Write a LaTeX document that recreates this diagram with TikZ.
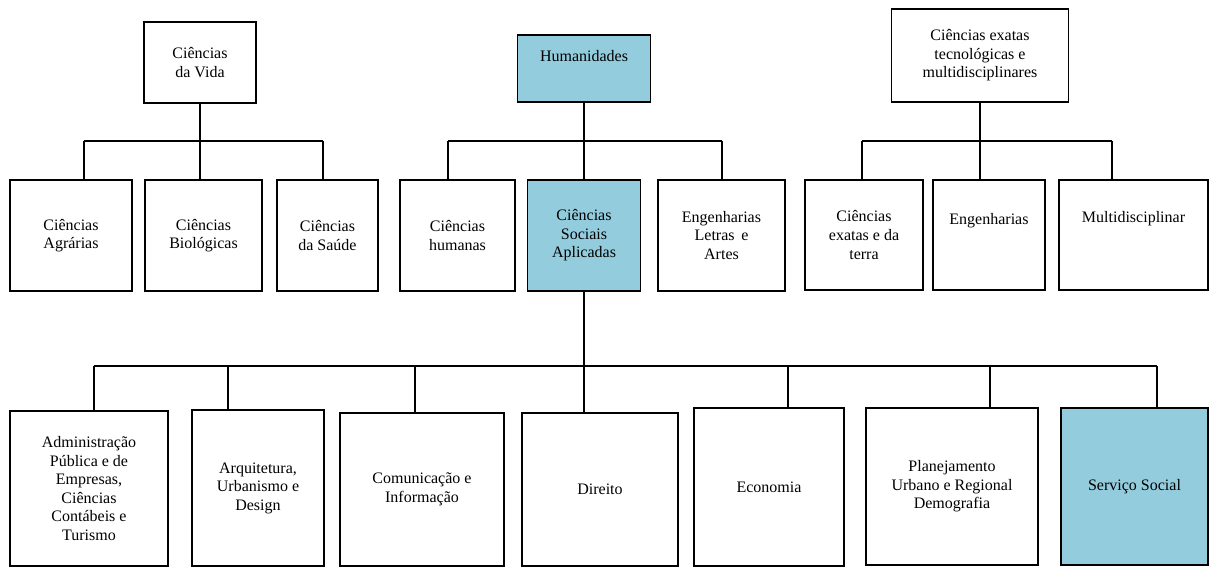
\documentclass[tikz,border=0pt]{standalone}
\usepackage{fontspec}
\setmainfont{Liberation Serif}
\definecolor{azul}{HTML}{93CDDD}

\begin{document}
\begin{tikzpicture}[x=0.75pt, y=-0.75pt, line width=1.4pt]
\tikzset{caixa/.style 2 args={draw, align=center, inner sep=2pt,
                        minimum width=#1*0.75pt, minimum height=#2*0.75pt,
                        font=\fontsize{12}{13.9}\selectfont},
         destaque/.style={fill=azul}}
\useasboundingbox (0,0) rectangle (1210,568);
\node[caixa={112}{81}] (vida) at (200,62.5) {Ciências\\da Vida};
\node[caixa={133}{67}, destaque, text depth=19pt] (hum) at (584,68.5) {Humanidades};
\node[caixa={177}{93}] (exatas) at (980,55.5) {Ciências exatas\\tecnológicas e\\multidisciplinares};
\node[caixa={122}{111}] (agrarias) at (71,235.5) {Ciências\\Agrárias};
\node[caixa={117}{111}] (biologicas) at (203.5,235.5) {Ciências\\Biológicas};
\node[caixa={101}{111}] (saude) at (327.5,235.5) {Ciências\\da Saúde};
\node[caixa={115}{111}] (humanas) at (457.5,235.5) {Ciências\\humanas};
\node[caixa={113}{111}, destaque] (csa) at (584,235.5) {Ciências\\Sociais\\Aplicadas};
\node[caixa={127}{111}] (letras) at (721.5,235.5) {Engenharias\\Letras \,e\\Artes};
\node[caixa={118}{110}] (terra) at (864,235) {Ciências\\exatas e da\\terra};
\node[caixa={112}{110}, text depth=24pt] (eng) at (989,235) {Engenharias};
\node[caixa={149}{110}, text depth=27pt] (multi) at (1133.5,235) {Multidisciplinar};
\node[caixa={158}{155}] (adm) at (89,488.5) {Administração\\Pública e de\\Empresas,\\Ciências\\Contábeis e\\Turismo};
\node[caixa={132}{156}] (arq) at (258,488) {Arquitetura,\\Urbanismo e\\Design};
\node[caixa={164}{153}] (com) at (422,489.5) {Comunicação e\\Informação};
\node[caixa={156}{153}] (dir) at (600,489.5) {Direito};
\node[caixa={150}{158}] (eco) at (769,487) {Economia};
\node[caixa={172}{157}] (plan) at (952,486.5) {Planejamento\\Urbano e Regional\\Demografia};
\node[caixa={147}{157}, destaque] (serv) at (1134.5,486.5) {Serviço Social};
\coordinate (v1) at (84,141);
\coordinate (v3) at (323,141);
\draw (vida.south) -- (vida.south |- v1);
\draw (v1) -- (v3);
\draw (v1) -- (v1 |- agrarias.north);
\draw (vida.south |- v1) -- (vida.south |- biologicas.north);
\draw (v3) -- (v3 |- saude.north);
\coordinate (h1) at (448,141);
\coordinate (h3) at (722,141);
\draw (hum.south) -- (hum.south |- h1);
\draw (h1) -- (h3);
\draw (h1) -- (h1 |- humanas.north);
\draw (hum.south |- h1) -- (csa.north);
\draw (h3) -- (h3 |- letras.north);
\coordinate (e1) at (862,141);
\coordinate (e3) at (1112,141);
\draw (exatas.south) -- (exatas.south |- e1);
\draw (e1) -- (e3);
\draw (e1) -- (e1 |- terra.north);
\draw (exatas.south |- e1) -- (exatas.south |- eng.north);
\draw (e3) -- (e3 |- multi.north);
\coordinate (s1) at (94,366);
\coordinate (s7) at (1157,366);
\draw (csa.south) -- (csa.south |- s1);
\draw[line width=1.2pt] (s1) -- (s7);
\foreach \x/\n in {94/adm, 228/arq, 415/com, 584/dir, 788/eco, 990/plan, 1157/serv}{
  \coordinate (t) at (\x,366);
  \draw[line width=1.2pt] (t) -- (t |- \n.north);
}
\end{tikzpicture}
\end{document}
